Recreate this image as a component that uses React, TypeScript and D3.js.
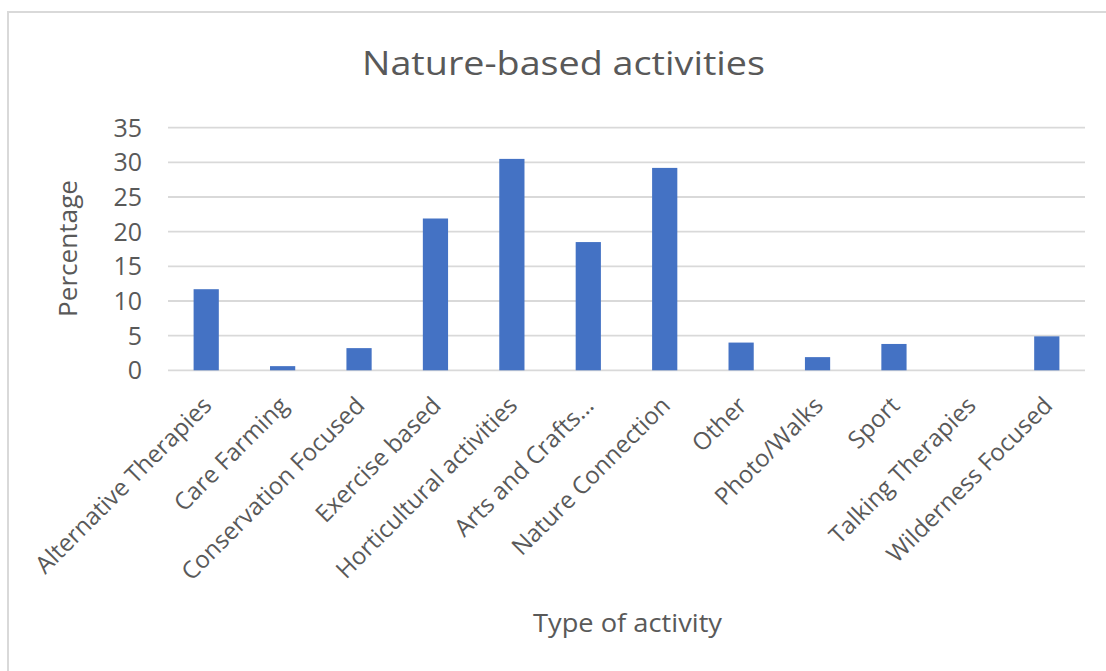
import React from "react";
import * as d3 from "d3";

const categories = [
  "Alternative Therapies",
  "Care Farming",
  "Conservation Focused",
  "Exercise based",
  "Horticultural activities",
  "Arts and Crafts…",
  "Nature Connection",
  "Other",
  "Photo/Walks",
  "Sport",
  "Talking Therapies",
  "Wilderness Focused",
];
const values = [11.7, 0.6, 3.2, 21.9, 30.5, 18.5, 29.2, 4.0, 1.9, 3.8, 0, 4.9];
const yTicks = [0, 5, 10, 15, 20, 25, 30, 35];

const W = 1106;
const H = 671;
const plot = { left: 168, right: 1085, top: 127.7, bottom: 370.3 };
const FONT = "'Open Sans', 'Noto Sans', sans-serif";
const GREY = "#595959";

export default function App() {
  const x = d3
    .scaleBand<string>()
    .domain(categories)
    .range([plot.left, plot.right])
    .paddingInner(0.67)
    .paddingOuter(0.335);
  const y = d3.scaleLinear().domain([0, 35]).range([plot.bottom, plot.top]);

  return (
    <svg
      width={W}
      height={H}
      style={{ position: "absolute", left: 0, top: 0, background: "#fff" }}
      fontFamily={FONT}
    >
      <rect x={0} y={0} width={W} height={H} fill="#fff" />
      <rect x={8} y={12} width={W + 50} height={H + 50} fill="none" stroke="#d9d9d9" strokeWidth={2} />
      <text
        x={362}
        y={75}
        fontSize={33}
        fill={GREY}
        textLength={403}
        lengthAdjust="spacingAndGlyphs"
      >
        Nature-based activities
      </text>
      {yTicks.map((t) => (
        <g key={t}>
          <line x1={plot.left} x2={plot.right} y1={y(t)} y2={y(t)} stroke="#d9d9d9" strokeWidth={1.8} />
          <text x={142} y={y(t)} dy="0.36em" textAnchor="end" fontSize={25} fill={GREY}>
            {t}
          </text>
        </g>
      ))}
      {categories.map((c, i) => (
        <rect
          key={c}
          x={x(c)}
          y={y(values[i])}
          width={x.bandwidth()}
          height={y(0) - y(values[i])}
          fill="#4472C4"
        />
      ))}
      {categories.map((c) => {
        const cx = (x(c) as number) + x.bandwidth() / 2;
        return (
          <text
            key={c}
            transform={`translate(${cx + 7},${407}) rotate(-45)`}
            textAnchor="end"
            fontSize={24}
            fill={GREY}
          >
            {c}
          </text>
        );
      })}
      <text
        transform={`translate(77,180) rotate(-90)`}
        textAnchor="end"
        fontSize={26}
        fill={GREY}
        textLength={137}
        lengthAdjust="spacingAndGlyphs"
      >
        Percentage
      </text>
      <text
        x={533}
        y={632}
        fontSize={26}
        fill={GREY}
        textLength={189}
        lengthAdjust="spacingAndGlyphs"
      >
        Type of activity
      </text>
    </svg>
  );
}
